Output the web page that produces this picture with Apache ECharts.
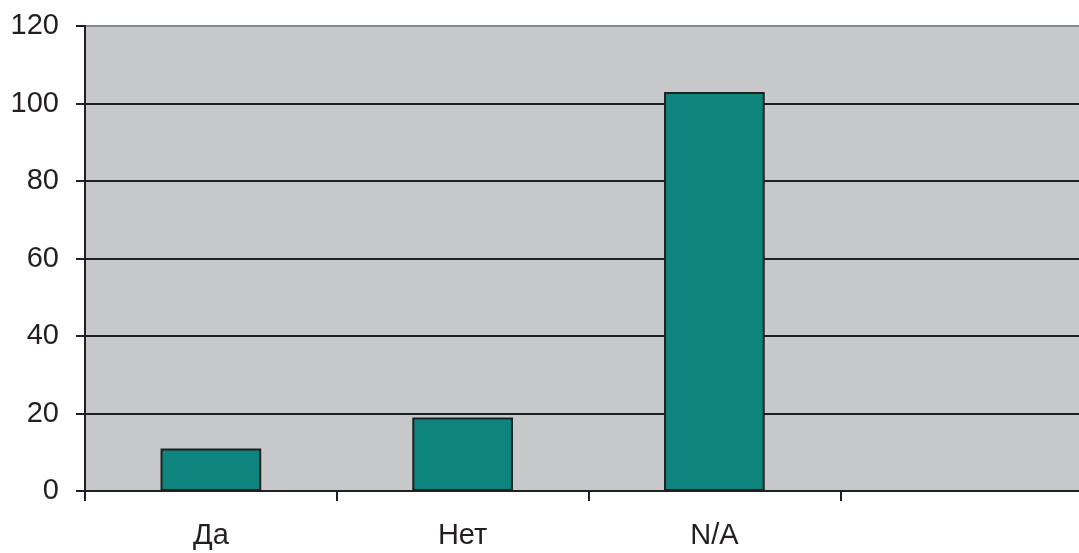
<!DOCTYPE html>
<html><head><meta charset="utf-8">
<script src="https://cdn.jsdelivr.net/npm/echarts@6/dist/echarts.min.js"></script>
<style>html,body{margin:0;padding:0;background:#fff;overflow:hidden}#c{width:1079px;height:553px}</style>
</head><body><div id="c"></div>
<script>
const categories = ['Да', 'Нет', 'N/A', ''];
const values = [11, 19, 103, null];
const yTicks = [0, 20, 40, 60, 80, 100, 120];

const chart = echarts.init(document.getElementById('c'));
chart.setOption({
  animation: false,
  grid: { left: 85, width: 1007, top: 26, bottom: 62, show: true, backgroundColor: '#c7c8ca', borderWidth: 0,
    outerBoundsMode: 'none', containLabel: false },
  xAxis: {
    type: 'category', data: categories,
    axisLine: { lineStyle: { color: '#231f20', width: 2 } },
    axisTick: { show: true, length: 10, lineStyle: { color: '#231f20', width: 2 } },
    axisLabel: { color: '#231f20', fontSize: 29, fontFamily: 'Liberation Sans, Arial', margin: 30 },
    splitLine: { show: false }
  },
  yAxis: {
    type: 'value', min: 0, max: 120, interval: 20,
    axisLine: { show: true, lineStyle: { color: '#231f20', width: 2 } },
    axisTick: { show: true, length: 9, lineStyle: { color: '#231f20', width: 2 } },
    axisLabel: { color: '#231f20', fontSize: 29, fontFamily: 'Liberation Sans, Arial', margin: 26,
      formatter: v => String(yTicks[yTicks.indexOf(v)]) },
    splitLine: { show: true, lineStyle: { color: ['#231f20','#231f20','#231f20','#231f20','#231f20','#231f20','#8a8a8c'], width: 2 } }
  },
  series: [{
    type: 'bar', data: values, barWidth: '40%',
    itemStyle: { color: '#0e847f', borderColor: '#231f20', borderWidth: 2 }
  }]
});
</script></body></html>
